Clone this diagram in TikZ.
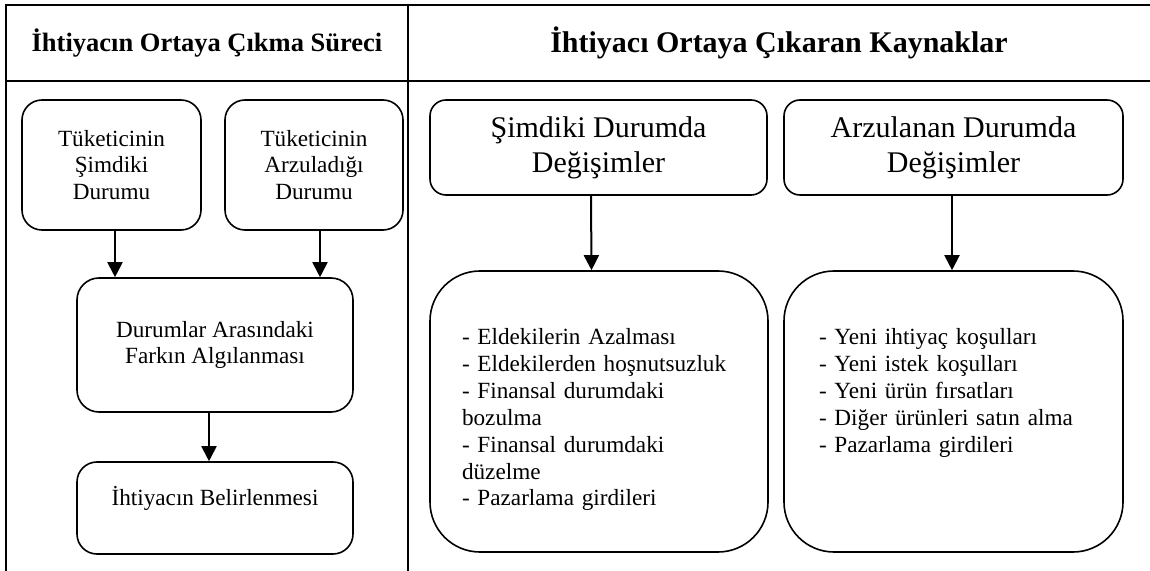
\documentclass[tikz,border=0pt]{standalone}
\usepackage{fontspec}
\setmainfont{Liberation Serif}
\usetikzlibrary{arrows.meta, positioning}

\begin{document}
\begin{tikzpicture}[x=0.5pt, y=-0.5pt,
  every node/.style={font=\fontsize{11.6}{13.4}\selectfont},
  head/.style={font=\fontsize{13.25}{15}\selectfont\bfseries},
  rhead/.style={font=\fontsize{15}{17}\selectfont\bfseries},
  box/.style={draw, line width=0.8pt, rounded corners=10pt, align=center},
  srcbox/.style={box, rounded corners=8pt, minimum height=47.5pt, font=\fontsize{15}{17.5}\selectfont},
  listbox/.style={draw, line width=0.8pt, rounded corners=25pt, align=left, minimum height=140.5pt, text height=10pt, text depth=76.5pt},
  arr/.style={-{Triangle[width=7.5pt,length=7.5pt]}, line width=1pt}]
\useasboundingbox (0,0) rectangle (1150,571);

% table frame
\draw[line width=1pt] (6,571) -- (6,5.5) -- (1150,5.5);
\draw[line width=1pt] (6,81) -- (1150,81);
\draw[line width=1pt] (408,5.5) -- (408,571);

\node[head] (proc) at (207,43) {İhtiyacın Ortaya Çıkma Süreci};
\node[rhead] (src) at (779,43) {İhtiyacı Ortaya Çıkaran Kaynaklar};

% left column
\node[box, minimum width=89.5pt, minimum height=65pt] (cur) at (111.5,165) {Tüketicinin\\Şimdiki\\Durumu};
\node[box, minimum width=89pt, minimum height=65pt] (want) at (314,165) {Tüketicinin\\Arzuladığı\\Durumu};
\node[box, minimum width=138pt, minimum height=67pt, rounded corners=11pt] (gap) at (215,345) {Durumlar Arasındaki\\Farkın Algılanması};
\node[box, minimum width=138pt, minimum height=46pt, text depth=12.5pt] (need) at (215,508) {İhtiyacın Belirlenmesi};

\draw[arr] ([xshift=1.75pt]cur.south) -- ([xshift=1.75pt]cur.south |- gap.north);
\draw[arr] ([xshift=3pt]want.south) -- ([xshift=3pt]want.south |- gap.north);
\draw[arr] ([xshift=-3pt]gap.south) -- ([xshift=-3pt]need.north);

% right column
\node[srcbox, minimum width=168.5pt] (curchg) at (598.5,147.5) {Şimdiki Durumda\\Değişimler};
\node[srcbox, minimum width=169.5pt] (wantchg) at (953.5,147.5) {Arzulanan Durumda\\Değişimler};
\node[listbox, minimum width=169pt, text width=137pt] (curlist) at (599,411.5) {- Eldekilerin Azalması\\- Eldekilerden hoşnutsuzluk\\- Finansal durumdaki\\bozulma\\- Finansal durumdaki\\düzelme\\- Pazarlama girdileri};
\node[listbox, minimum width=169.5pt, text width=134.5pt] (wantlist) at (953.5,411.5) {- Yeni ihtiyaç koşulları\\- Yeni istek koşulları\\- Yeni ürün fırsatları\\- Diğer ürünleri satın alma\\- Pazarlama girdileri};

\draw[arr] ([xshift=-3.75pt]curchg.south) -- ([xshift=-3.75pt]curlist.north);
\draw[arr] ([xshift=-0.75pt]wantchg.south) -- ([xshift=-0.75pt]wantlist.north);
\end{tikzpicture}
\end{document}
